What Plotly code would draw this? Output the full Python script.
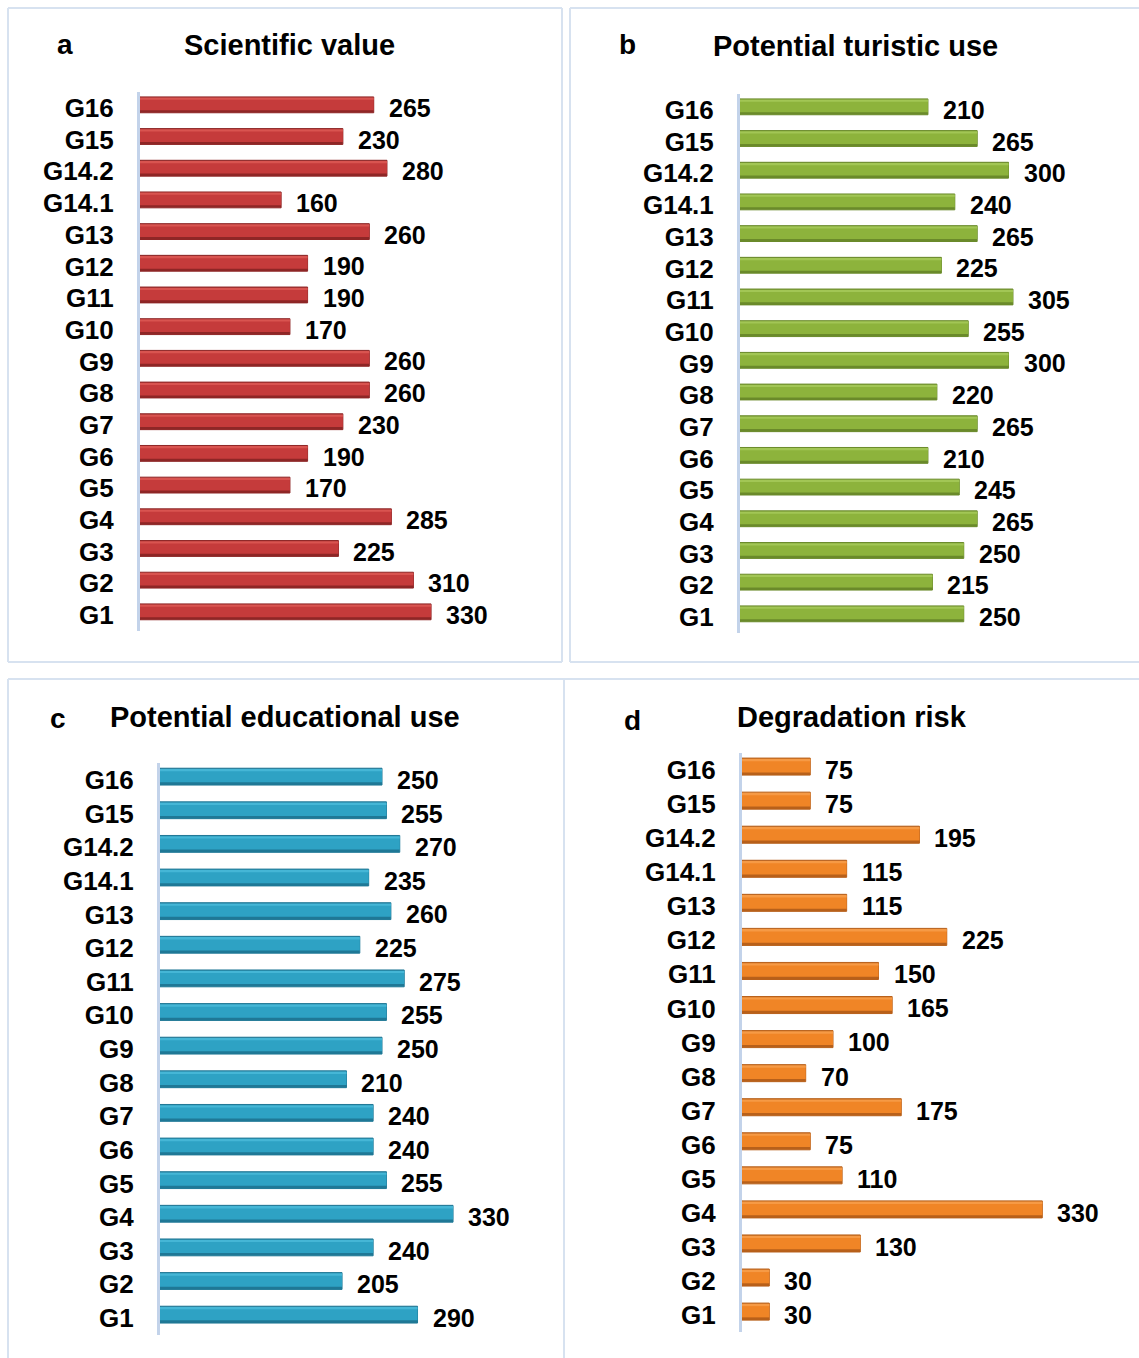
import plotly.graph_objects as go

W, H = 1139, 1358

categories = ["G1", "G2", "G3", "G4", "G5", "G6", "G7", "G8", "G9", "G10",
              "G11", "G12", "G13", "G14.1", "G14.2", "G15", "G16"]

scientific_value = [330, 310, 225, 285, 170, 190, 230, 260, 260, 170,
                    190, 190, 260, 160, 280, 230, 265]
turistic_use = [250, 215, 250, 265, 245, 210, 265, 220, 300, 255,
                305, 225, 265, 240, 300, 265, 210]
educational_use = [290, 205, 240, 330, 255, 240, 240, 210, 250, 255,
                   275, 225, 260, 235, 270, 255, 250]
degradation_risk = [30, 30, 130, 330, 110, 75, 175, 70, 100, 165,
                    150, 225, 115, 115, 195, 75, 75]

panel_letters = ["a", "b", "c", "d"]
panel_titles = ["Scientific value", "Potential turistic use",
                "Potential educational use", "Degradation risk"]

FONT = "Liberation Sans, Arial, sans-serif"

panels = [
    dict(vals=scientific_value, main="#c53b3b", dark="#8e2626", light="#d95450",
         x0=140, x1=545, s=0.882, ytop=108, ybot=615,
         letter_xy=(65, 45), title_xy=(289, 45)),
    dict(vals=turistic_use, main="#8db33c", dark="#6a8a2a", light="#a2c655",
         x0=740, x1=1135, s=0.895, ytop=110, ybot=617,
         letter_xy=(627, 45), title_xy=(855, 46)),
    dict(vals=educational_use, main="#2ea2c4", dark="#1f7896", light="#45b6d6",
         x0=160, x1=555, s=0.888, ytop=780, ybot=1318,
         letter_xy=(58, 718), title_xy=(285, 717)),
    dict(vals=degradation_risk, main="#f08526", dark="#b8601a", light="#f69a45",
         x0=742, x1=1135, s=0.91, ytop=770, ybot=1315,
         letter_xy=(632, 720), title_xy=(852, 717)),
]

fig = go.Figure()
annotations = []
shapes = []

for i, p in enumerate(panels):
    n = len(categories)
    step = (p["ybot"] - p["ytop"]) / (n - 1)
    top_px = p["ytop"] - step / 2
    bot_px = p["ybot"] + step / 2
    xa = "x" if i == 0 else f"x{i+1}"
    ya = "y" if i == 0 else f"y{i+1}"
    xkey = "xaxis" if i == 0 else f"xaxis{i+1}"
    ykey = "yaxis" if i == 0 else f"yaxis{i+1}"
    rng = (p["x1"] - p["x0"]) / p["s"]

    fig.add_trace(go.Bar(
        y=categories, x=p["vals"], orientation="h", xaxis=xa, yaxis=ya,
        width=0.5, offset=-0.15,
        marker=dict(color=p["dark"], line=dict(color=p["dark"], width=1)),
        hoverinfo="x+y", showlegend=False))
    fig.add_trace(go.Bar(
        y=categories, x=p["vals"], orientation="h", xaxis=xa, yaxis=ya,
        width=0.38, offset=-0.07,
        marker=dict(color=p["main"], line=dict(width=0)),
        hoverinfo="skip", showlegend=False))
    fig.add_trace(go.Bar(
        y=categories, x=p["vals"], orientation="h", xaxis=xa, yaxis=ya,
        width=0.07, offset=0.26,
        marker=dict(color=p["light"], line=dict(width=0)),
        hoverinfo="skip", showlegend=False))

    fig.update_layout({
        xkey: dict(domain=[p["x0"] / W, p["x1"] / W], range=[0, rng],
                   visible=False, anchor=ya, fixedrange=True),
        ykey: dict(domain=[1 - bot_px / H, 1 - top_px / H], anchor=xa,
                   type="category", categoryorder="array", categoryarray=categories,
                   range=[-0.5, n - 0.5], showgrid=False, zeroline=False,
                   showline=True, linecolor="#c3d3ea", linewidth=3,
                   ticks="", ticklabelstandoff=18,
                   tickfont=dict(family=FONT, size=26, color="#000000", weight="bold"),
                   fixedrange=True),
    })

    for c, v in zip(categories, p["vals"]):
        annotations.append(dict(
            x=v, y=c, xref=xa, yref=ya, text=str(v), showarrow=False,
            xanchor="left", yanchor="middle", xshift=13,
            font=dict(family=FONT, size=25, color="#000000", weight="bold")))

    lx, ly = p["letter_xy"]
    annotations.append(dict(
        x=lx / W, y=1 - ly / H, xref="paper", yref="paper", text=panel_letters[i],
        showarrow=False, xanchor="center", yanchor="middle",
        font=dict(family=FONT, size=28, color="#000000", weight="bold")))
    tx, ty = p["title_xy"]
    annotations.append(dict(
        x=tx / W, y=1 - ty / H, xref="paper", yref="paper", text=panel_titles[i],
        showarrow=False, xanchor="center", yanchor="middle",
        font=dict(family=FONT, size=29, color="#000000", weight="bold")))

border = dict(color="#d7e2f0", width=2)

def pline(x0, y0, x1, y1):
    shapes.append(dict(type="line", xref="paper", yref="paper",
                       x0=x0 / W, y0=1 - y0 / H, x1=x1 / W, y1=1 - y1 / H,
                       line=border, layer="below"))

pline(8, 8, 562, 8); pline(8, 662, 562, 662); pline(8, 8, 8, 662); pline(562, 8, 562, 662)
pline(570, 8, 1139, 8); pline(570, 662, 1139, 662); pline(570, 8, 570, 662)
pline(8, 679, 1139, 679); pline(8, 679, 8, 1358); pline(564, 679, 564, 1358)

fig.update_layout(
    width=W, height=H, margin=dict(l=0, r=0, t=0, b=0),
    paper_bgcolor="white", plot_bgcolor="rgba(0,0,0,0)",
    barmode="overlay",
    annotations=annotations, shapes=shapes,
    font=dict(family=FONT),
)

fig.write_html("out.html", config={"displayModeBar": False},
               post_script="document.body.style.margin='0';document.body.style.padding='0';")
